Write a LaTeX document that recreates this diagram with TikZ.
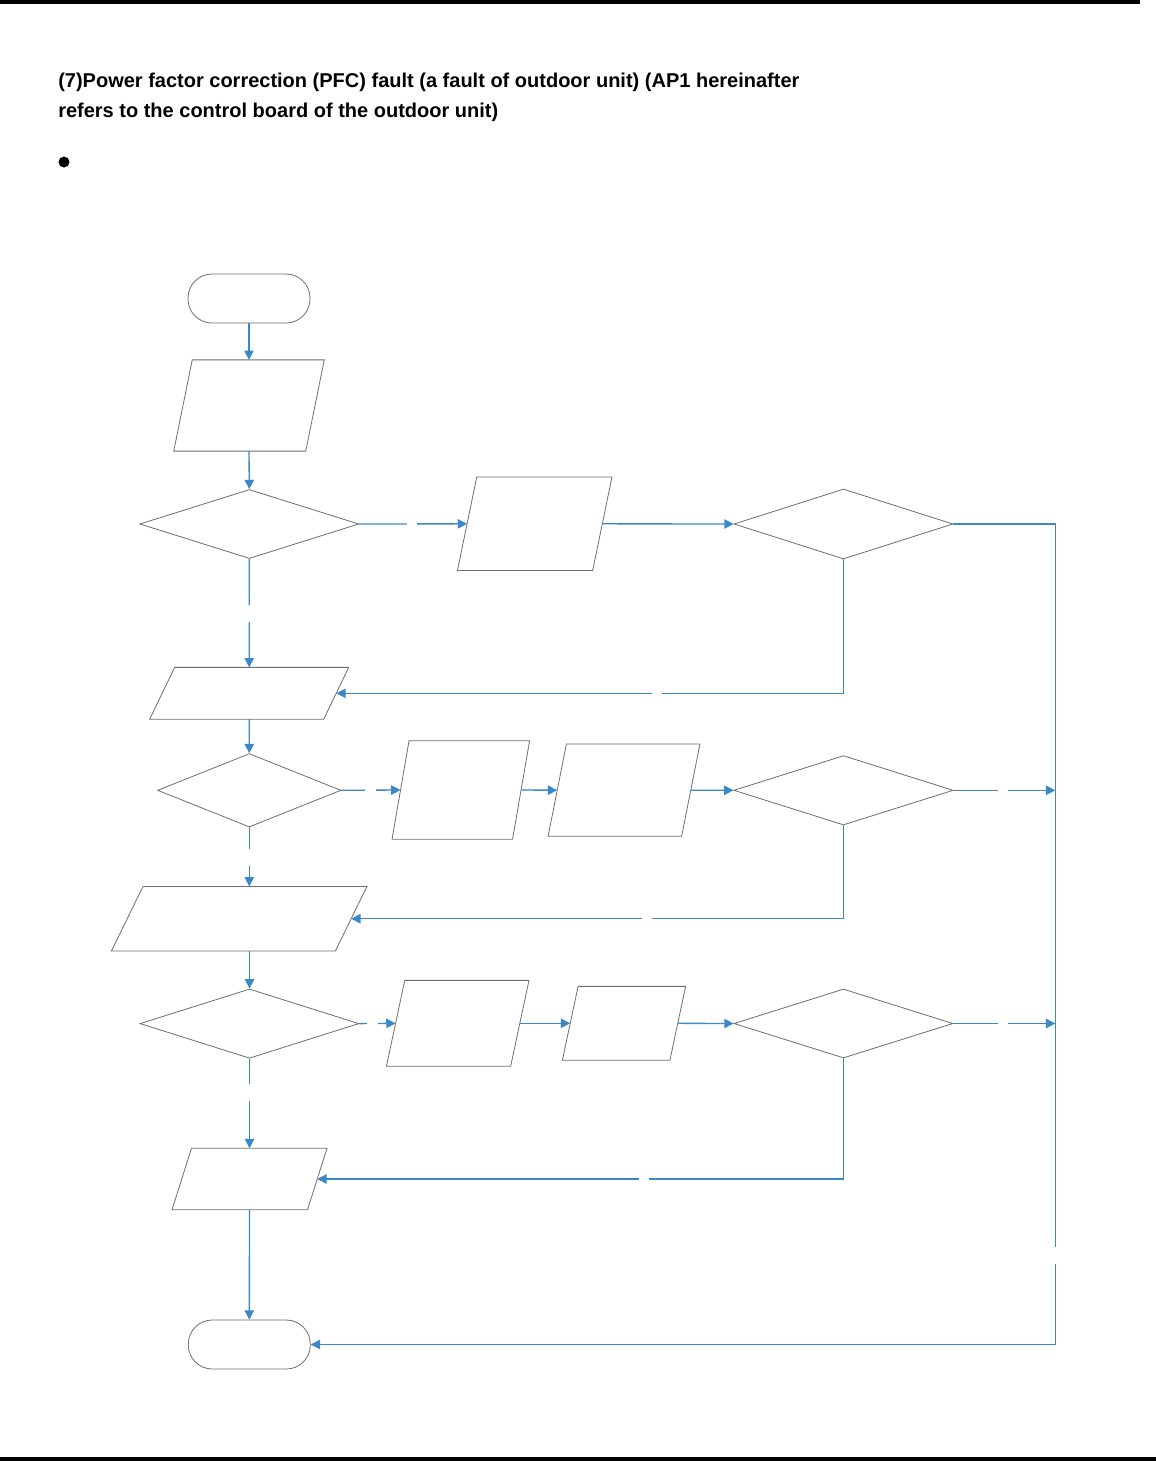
\documentclass[tikz,border=0pt]{standalone}
\usepackage{fontspec}
\setmainfont{Liberation Sans}
\usetikzlibrary{shapes.geometric,arrows.meta}

\definecolor{flowblue}{HTML}{3A88C8}
\definecolor{boxgrey}{HTML}{6E6E6E}
\newcommand{\pxu}{0.75pt}

\tikzset{
  heading/.style={anchor=base west, inner sep=0pt, font=\bfseries\fontsize{15}{17}\selectfont},
  boxline/.style={draw=boxgrey, line width=0.6pt},
  terminal/.style={boxline, rectangle, rounded corners=18pt, minimum width=122*\pxu, minimum height=49*\pxu, inner sep=0pt},
  decision/.style n args={2}{boxline, diamond, minimum width=#1*\pxu, minimum height=#2*\pxu, inner sep=0pt},
  io/.style n args={2}{rectangle, minimum width=#1*\pxu, minimum height=#2*\pxu, inner sep=0pt},
  flow/.style={draw=flowblue, line width=1pt, -{Triangle[length=7pt,width=7pt]}},
  gap/.style={fill=white, inner sep=0pt, minimum size=#1*\pxu},
}

\begin{document}
\begin{tikzpicture}[x=0.75pt, y=-0.75pt]
\useasboundingbox (0,0) rectangle (1156,1461);
% page rules
\fill (0,0) rectangle (1140,4);
\fill (0,1456.5) rectangle (1156,1461);
% heading
\node[heading] (title1) at (58,87) {(7)Power factor correction (PFC) fault (a fault of outdoor unit) (AP1 hereinafter};
\node[heading] (title2) at (58,117) {refers to the control board of the outdoor unit)};
\node[circle, fill, inner sep=0pt, minimum size=11*\pxu] (dot) at (64,162) {};

% left column
\node[terminal] (start) at (249,298.5) {};
\node[io={131.5}{90.7}] (p1) at (249,405.5) {};
\node[decision={219}{69}] (d1) at (249.3,524) {};
\node[io={173.5}{51.3}] (p3) at (249.2,693.3) {};
\node[decision={183.4}{73.4}] (d3) at (249.3,790.3) {};
\node[io={223.4}{64}] (p6) at (239.2,918.7) {};
\node[decision={219}{69.3}] (d5) at (249.5,1023.6) {};
\node[io={135}{61}] (p9) at (249.5,1179) {};
\node[terminal] (stop) at (249.3,1344.5) {};

% branches
\node[io={134.7}{93}] (p2) at (534.7,523.8) {};
\node[decision={219}{70}] (d2) at (843.5,524) {};
\node[io={120}{98}] (p4) at (460.8,790) {};
\node[io={133}{91.7}] (p5) at (624,790.2) {};
\node[decision={219.4}{69.4}] (d4) at (843.5,790.3) {};
\node[io={123.7}{85.3}] (p7) at (457.7,1023.3) {};
\node[io={107}{73.3}] (p8) at (624,1023.3) {};
\node[decision={219}{69}] (d6) at (843.5,1023.5) {};

% slanted outlines of the io boxes
\foreach \n/\s in {p1/18.5, p2/19.3, p3/25, p4/17, p5/18.3, p6/31.6, p7/18.3, p8/15.7, p9/19.5}
  \draw[boxline] ([xshift=-\s*0.375pt]\n.south west) -- ([xshift=\s*0.375pt]\n.north west)
    -- ([xshift=\s*0.375pt]\n.north east) -- ([xshift=-\s*0.375pt]\n.south east) -- cycle;

% connectors
\draw[flow] (start.south) -- (p1.north);
\draw[flow] (p1.south) -- (d1.north);
\draw[flow] (d1.east) -- node[gap=10, pos=0.49] {} (p2.west);
\draw[flow] (p2.east) -- (d2.west);
\draw[flow] (d1.south) -- node[gap=17, pos=0.505] {} (p3.north);
\draw[flow] (d2.south) |- node[gap=10, pos=0.684] {} (p3.east);
\draw[flow] (p3.south) -- (d3.north);
\draw[flow] (d3.east) -- node[gap=11, pos=0.497] {} (p4.west);
\draw[flow] (p4.east) -- (p5.west);
\draw[flow] (p5.east) -- (d4.west);
\draw[flow] (d3.south) -- node[gap=17, pos=0.505] {} (d3.south |- p6.north);
\draw[flow] (d4.south) |- node[gap=10, pos=0.70] {} (p6.east);
\draw[flow] (p6.south -| d5.north) -- (d5.north);
\draw[flow] (d5.east) -- node[gap=11, pos=0.37] {} (p7.west);
\draw[flow] (p7.east) -- (p8.west);
\draw[flow] (p8.east) -- (d6.west);
\draw[flow] (d5.south) -- node[gap=17, pos=0.374] {} (p9.north);
\draw[flow] (d6.south) |- node[gap=10, pos=0.69] {} (p9.east);
\draw[flow] (p9.south) -- (stop.north);

% right-hand return line
\coordinate (rbot) at (1055.3,1344.5);
\draw[flow] (d2.east) -| node[gap=17, pos=0.946] {} (rbot) -- (stop.east);
\draw[flow] (d4.east) -- node[gap=10, pos=0.49] {} (d4.east -| rbot);
\draw[flow] (d6.east) -- node[gap=10, pos=0.49] {} (d6.east -| rbot);
\end{tikzpicture}
\end{document}
